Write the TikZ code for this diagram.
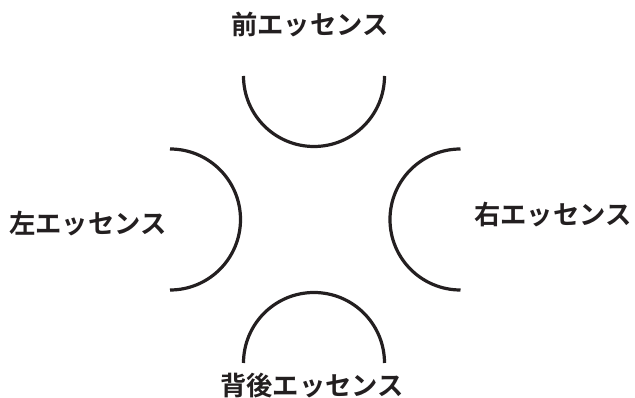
\documentclass[tikz,border=0pt]{standalone}
\usepackage{fontspec}
\newfontfamily\cjk{Noto Sans CJK JP Bold}[BoldFont={Noto Sans CJK JP Bold}]
\definecolor{ink}{HTML}{231F20}
\begin{document}
\begin{tikzpicture}[x=1pt,y=1pt,
  arcline/.style={draw=ink,line width=3.2pt},
  lbl/.style={font=\cjk\fontsize{26.3}{29}\selectfont,text=ink,inner sep=0pt}]
\useasboundingbox (0,0) rectangle (635,398);
% arcs
\draw[arcline] (243.5,322) arc[start angle=180,end angle=360,radius=70.5];
\draw[arcline] (170,249) arc[start angle=90,end angle=-90,radius=70.5];
\draw[arcline] (460.5,249) arc[start angle=90,end angle=270,radius=70.5];
\draw[arcline] (243.5,35) arc[start angle=180,end angle=0,radius=70.5];
% labels
\node[lbl] (front) at (310,373) {前エッセンス};
\node[lbl] (left) at (88,174) {左エッセンス};
\node[lbl] (right) at (553,183) {右エッセンス};
\node[lbl] (back) at (312,12) {背後エッセンス};
\end{tikzpicture}
\end{document}
